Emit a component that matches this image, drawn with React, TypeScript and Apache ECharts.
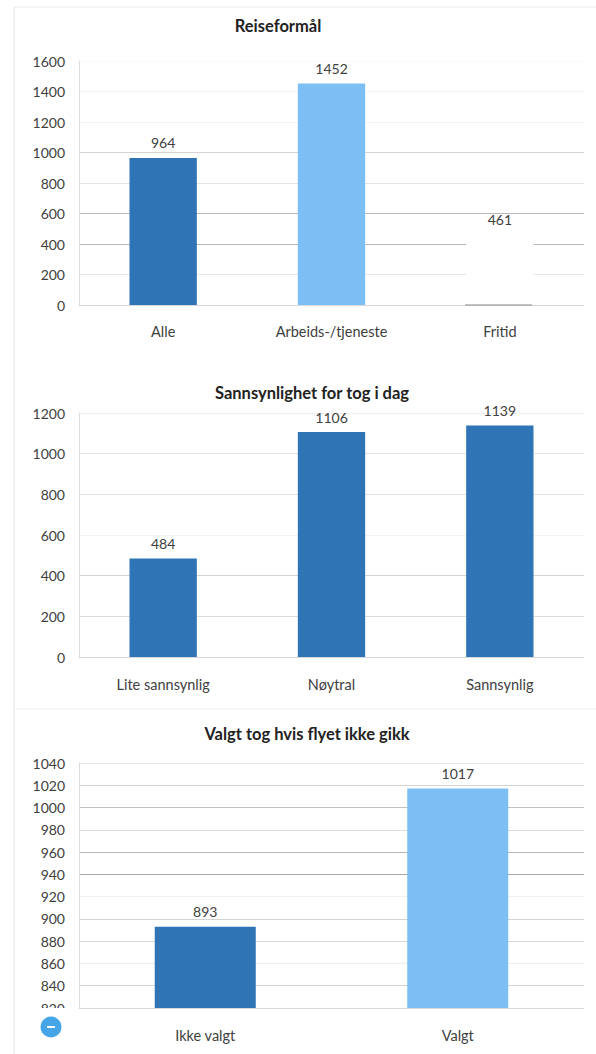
import React, { useEffect, useRef } from "react";
import * as echarts from "echarts";

const DARK = "#2f74b5";
const LIGHT = "#7cbff5";
const WHITE = "#ffffff";

const titles = ["Reiseformål", "Sannsynlighet for tog i dag", "Valgt tog hvis flyet ikke gikk"];
const categories1 = ["Alle", "Arbeids-/tjeneste", "Fritid"];
const values1 = [964, 1452, 461];
const colors1 = [DARK, LIGHT, WHITE];
const gridShades1 = ["#dddddd", "#e8e8e8", "#b8b8b8", "#b8b8b8", "#e4e4e4", "#d4d4d4", "#f3f3f3", "#f3f3f3", "#fafafa"];
const categories2 = ["Lite sannsynlig", "Nøytral", "Sannsynlig"];
const values2 = [484, 1106, 1139];
const colors2 = [DARK, DARK, DARK];
const gridShades2 = ["#bbbbbb", "#dddddd", "#d4d4d4", "#f3f3f3", "#e2e2e2", "#e4e4e4", "#eeeeee"];
const categories3 = ["Ikke valgt", "Valgt"];
const values3 = [893, 1017];
const colors3 = [DARK, LIGHT];
const gridShades3 = ["#d4d4d4", "#d4d4d4", "#eeeeee", "#d8d8d8", "#d4d4d4", "#f0f0f0", "#a8a8a8", "#b8b8b8", "#dddddd", "#c0c0c0", "#d4d4d4", "#e4e4e4"];

const FONT = "Lato";
const TEXT = "#404040";

function xAxis(idx: number, data: string[], margin: number) {
  return {
    type: "category",
    gridIndex: idx,
    data,
    axisTick: { show: false },
    axisLine: { lineStyle: { color: "#d8d8d8" } },
    axisLabel: { color: TEXT, fontFamily: FONT, fontSize: 14.5, margin },
  };
}

function yAxis(idx: number, min: number, max: number, interval: number, shades: string[]) {
  return {
    type: "value",
    gridIndex: idx,
    min,
    max,
    interval,
    axisLine: { show: true, lineStyle: { color: "#dddddd" } },
    axisTick: { show: false },
    axisLabel: {
      color: TEXT,
      fontFamily: FONT,
      fontSize: 14,
      margin: 14,
      formatter: (v: number) => String(v),
    },
    splitLine: { lineStyle: { color: shades, width: 1 } },
  };
}

function bars(idx: number, values: number[], colors: string[]) {
  return {
    type: "bar",
    xAxisIndex: idx,
    yAxisIndex: idx,
    barWidth: "40%",
    data: values.map((value, i) => ({ value, itemStyle: { color: colors[i] } })),
    label: {
      show: true,
      position: "top",
      distance: 8,
      color: TEXT,
      fontFamily: FONT,
      fontSize: 14,
    },
  };
}

function titleText(text: string, x: number, y: number) {
  return {
    type: "text",
    x,
    y,
    style: {
      text,
      fill: "#222222",
      font: `bold 16.5px "${FONT}"`,
      textAlign: "center",
      textVerticalAlign: "middle",
    },
  };
}

function rule(x1: number, y1: number, x2: number, y2: number, stroke: string) {
  return { type: "line", shape: { x1, y1, x2, y2 }, style: { stroke, lineWidth: 1 }, silent: true };
}

export default function App() {
  const ref = useRef<HTMLDivElement>(null);
  useEffect(() => {
    const chart = echarts.init(ref.current!, undefined, { renderer: "svg" });
    chart.setOption({
      animation: false,
      backgroundColor: "#ffffff",
      grid: [
        { left: 79, right: 12, top: 61, height: 244 },
        { left: 79, right: 12, top: 413, height: 244 },
        { left: 79, right: 12, top: 763, height: 245 },
      ],
      xAxis: [xAxis(0, categories1, 19), xAxis(1, categories2, 20), xAxis(2, categories3, 20)],
      yAxis: [
        yAxis(0, 0, 1600, 200, gridShades1),
        yAxis(1, 0, 1200, 200, gridShades2),
        yAxis(2, 820, 1040, 20, gridShades3),
      ],
      series: [bars(0, values1, colors1), bars(1, values2, colors2), bars(2, values3, colors3)],
      graphic: [
        rule(14, 7, 14, 1054, "#e6e6e6"),
        rule(14, 7, 596, 7, "#ececec"),
        rule(14, 709, 596, 709, "#ececec"),
        { ...rule(465, 305, 532, 305, "#8a8a8a"), z: 50 },
        titleText(titles[0], 278, 26),
        titleText(titles[1], 312, 393),
        titleText(titles[2], 307, 734),
        {
          type: "rect",
          z: 100,
          shape: { x: 28, y: 1008, width: 44, height: 12 },
          style: { fill: "#ffffff" },
        },
        { type: "circle", z: 101, shape: { cx: 51, cy: 1027, r: 10.5 }, style: { fill: "#45a5e6" } },
        { type: "rect", z: 102, shape: { x: 47, y: 1026, width: 8, height: 2 }, style: { fill: "#ffffff" } },
      ],
    });
    return () => chart.dispose();
  }, []);
  return <div ref={ref} style={{ width: 596, height: 1054, position: "absolute", left: 0, top: 0 }} />;
}
